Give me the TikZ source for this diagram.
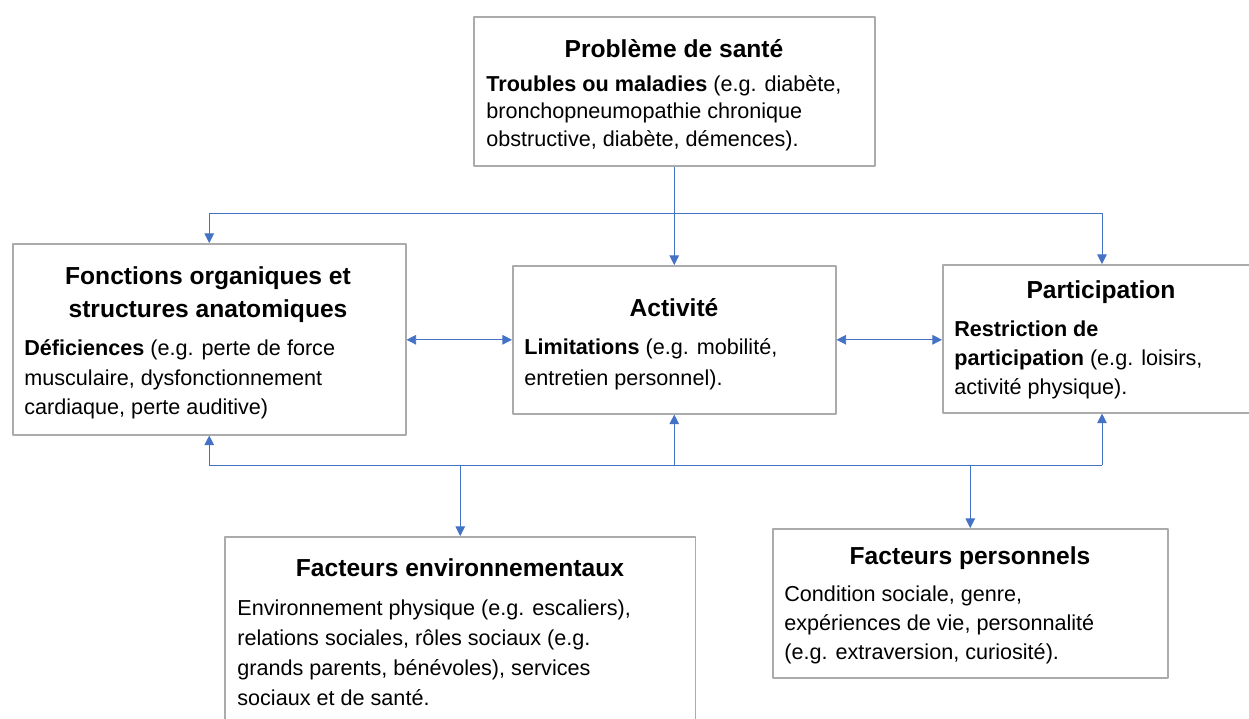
\documentclass[tikz,border=0pt]{standalone}
\usepackage{fontspec}
\setmainfont{Liberation Sans}
\usetikzlibrary{arrows.meta}
\definecolor{boxgray}{HTML}{ABABAB}
\definecolor{linkblue}{HTML}{4472C4}
\tikzset{
  box/.style={draw=boxgray, line width=0.9pt, anchor=north west, inner sep=0pt},
  titre/.style={font=\fontsize{14}{18.7}\selectfont\bfseries, align=center, inner sep=0pt},
  texte/.style={font=\fontsize{12.3}{#1}\selectfont, align=left, anchor=north west, inner sep=0pt},
  texte/.default=15.6pt,
  trait/.style={draw=linkblue, line width=0.5pt},
  link/.style={trait, -{Triangle[length=5.5pt,width=5.5pt]}},
  biglink/.style={trait, {Triangle[length=5.5pt,width=5.5pt]}-{Triangle[length=5.5pt,width=5.5pt]}},
}
\begin{document}
\begin{tikzpicture}[x=0.02cm, y=-0.02cm, line join=round]
	\useasboundingbox (0,0) rectangle (1249,718);
	\clip (0,0) rectangle (1249,718);
	% cadres
	\node[box, minimum width=8.02cm, minimum height=2.98cm] (sante) at (473,16) {};
	\node[box, minimum width=7.86cm, minimum height=3.82cm] (fonctions) at (12,243) {};
	\node[box, minimum width=6.46cm, minimum height=2.96cm] (activite) at (512,265) {};
	\node[box, minimum width=6.2cm, minimum height=2.96cm] (participation) at (942,264) {};
	\node[box, minimum width=9.42cm, minimum height=3.72cm] (env) at (224,536) {};
	\node[box, minimum width=7.9cm, minimum height=2.98cm] (perso) at (772,528) {};

	% textes
	\node[titre] (santeT) at (674,49) {Problème de santé};
	\node[texte] (santeX) at (486,75) {\textbf{Troubles ou maladies} (e.g. diabète,\\bronchopneumopathie chronique\\obstructive, diabète, démences).};

	\node[titre] (fonctionsT) at (208,295) {Fonctions organiques et\\structures anatomiques};
	\node[texte=17pt] (fonctionsX) at (24,339) {\textbf{Déficiences} (e.g. perte de force\\musculaire, dysfonctionnement\\cardiaque, perte auditive)};

	\node[titre] (activiteT) at (674,308) {Activité};
	\node[texte=17.6pt] (activiteX) at (524,338) {\textbf{Limitations} (e.g. mobilité,\\entretien personnel).};

	\node[titre] (participationT) at (1101,292) {Participation};
	\node[texte=16.7pt] (participationX) at (954,320) {\textbf{Restriction de}\\\textbf{participation} (e.g. loisirs,\\activité physique).};

	\node[titre] (envT) at (460,568) {Facteurs environnementaux};
	\node[texte=17.2pt] (envX) at (237,599) {Environnement physique (e.g. escaliers),\\relations sociales, rôles sociaux (e.g.\\grands parents, bénévoles), services\\sociaux et de santé.};

	\node[titre] (persoT) at (970,558) {Facteurs personnels};
	\node[texte=16.7pt] (persoX) at (784,585) {Condition sociale, genre,\\expériences de vie, personnalité\\(e.g. extraversion, curiosité).};

	% liaisons
	\coordinate (haut) at (674,213);
	\coordinate (bas) at (674,465);
	\coordinate (droite) at (1102,0);
	\draw[link] (sante.south) -- (sante.south |- activite.north);
	\draw[link] (sante.south |- haut) -| (fonctions.north);
	\draw[link] (sante.south |- haut) -| (droite |- participation.north);
	\draw[biglink] (fonctions.east |- activite.west) -- (activite.west);
	\draw[biglink] (activite.east) -- (activite.east -| participation.west);
	\draw[trait] (fonctions.south |- bas) -- (droite |- bas);
	\draw[link] (fonctions.south |- bas) -- (fonctions.south);
	\draw[link] (activite.south |- bas) -- (activite.south);
	\draw[link] (droite |- bas) -- (droite |- participation.south);
	\draw[link] (env.north |- bas) -- (env.north);
	\draw[link] (perso.north |- bas) -- (perso.north);
\end{tikzpicture}
\end{document}
